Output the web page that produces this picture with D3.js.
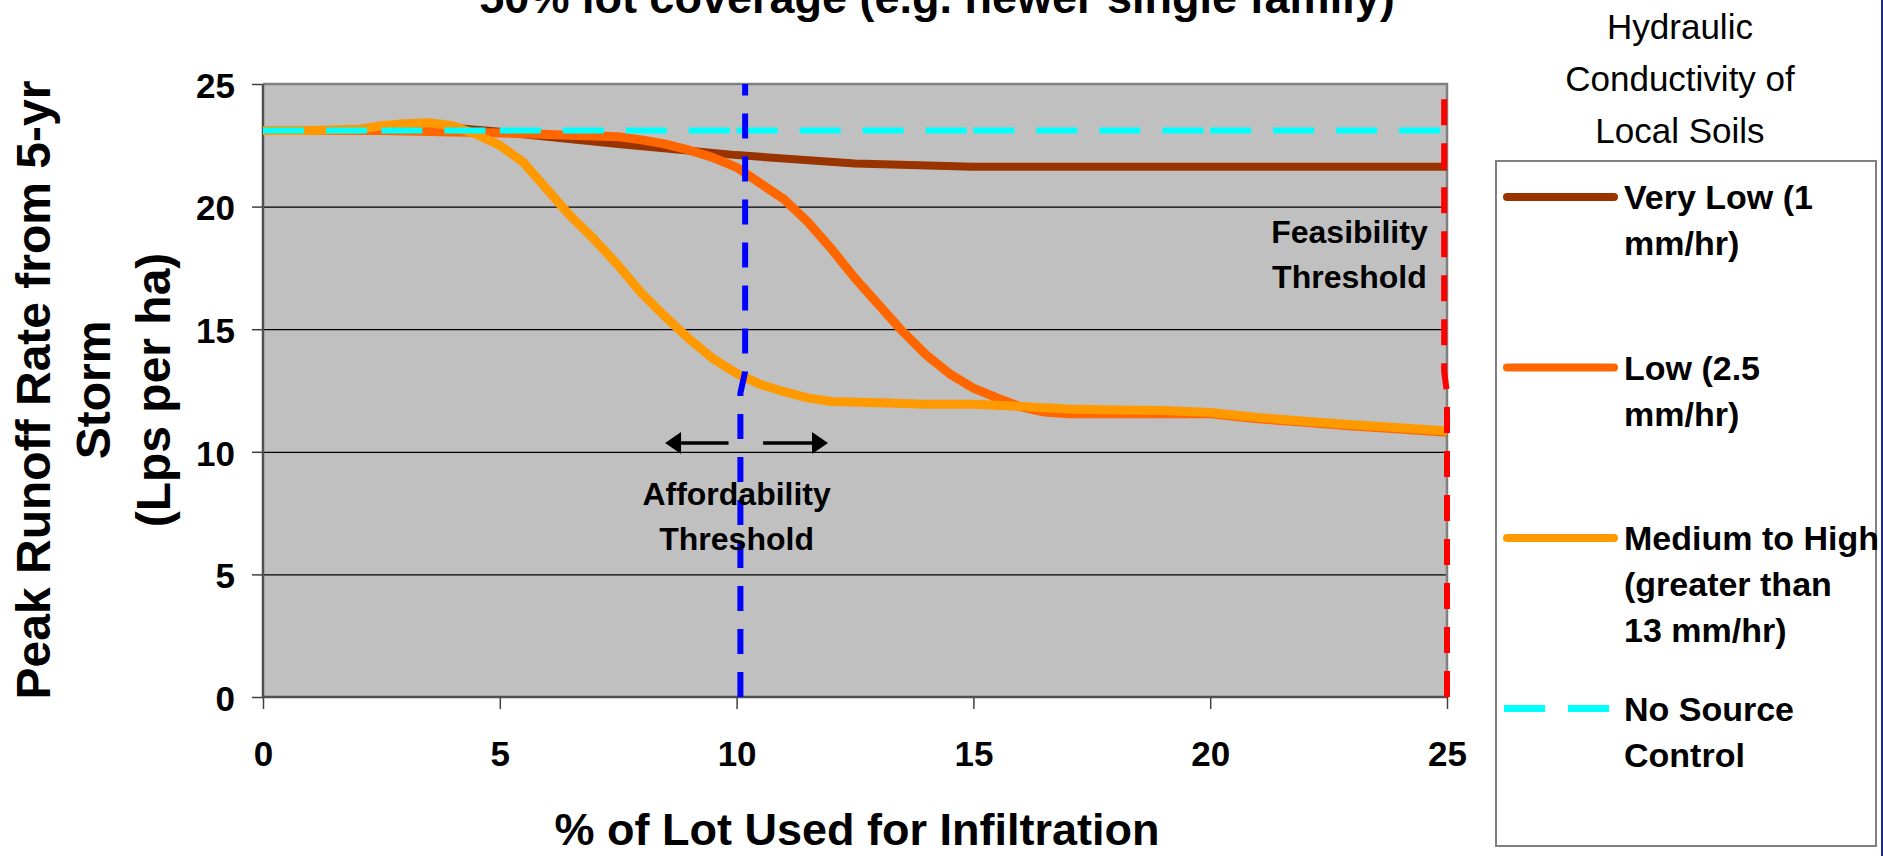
<!DOCTYPE html>
<html>
<head>
<meta charset="utf-8">
<script src="https://cdn.jsdelivr.net/npm/d3@7"></script>
<style>
  body { margin: 0; background: #fff; }
  svg { display: block; font-family: "Liberation Sans", Arial, sans-serif; }
</style>
</head>
<body>
<svg id="chart" width="1883" height="856"></svg>
<script>
// données
const xTicks = [0, 5, 10, 15, 20, 25];
const yTicks = [0, 5, 10, 15, 20, 25];

const veryLowX = [0, 2.5, 4, 5, 7.5, 10, 12.5, 15, 20, 25];
const veryLowY = [23.1, 23.12, 23.22, 23.05, 22.55, 22.1, 21.76, 21.63, 21.63, 21.63];

const lowX = [0, 2.5, 5, 7.5, 8, 8.5, 9, 9.5, 10, 10.5, 11, 11.5, 12, 12.5, 13, 13.5, 14, 14.5, 15, 15.5, 16, 16.5, 17, 18, 19, 20, 21, 22, 23, 24, 25];
const lowY = [23.1, 23.1, 23.0, 22.85, 22.72, 22.55, 22.3, 22.0, 21.6, 20.95, 20.3, 19.38, 18.28, 17.08, 16.0, 14.92, 13.96, 13.18, 12.6, 12.2, 11.83, 11.62, 11.55, 11.55, 11.55, 11.55, 11.35, 11.2, 11.05, 10.93, 10.8];

const medX = [0, 1, 2, 2.5, 3, 3.5, 4, 4.5, 5, 5.5, 6, 6.5, 7, 7.5, 8, 8.5, 9, 9.5, 10, 10.5, 11, 11.5, 12, 13, 14, 15, 16, 17, 18, 19, 20, 21, 22, 23, 24, 25];
const medY = [23.1, 23.1, 23.15, 23.3, 23.38, 23.42, 23.3, 22.95, 22.5, 21.8, 20.7, 19.6, 18.65, 17.6, 16.45, 15.5, 14.6, 13.8, 13.2, 12.75, 12.45, 12.2, 12.05, 12.0, 11.94, 11.94, 11.85, 11.75, 11.7, 11.68, 11.6, 11.4, 11.25, 11.1, 10.98, 10.85];

const noControlX = [0, 2.5, 5, 10, 15, 20, 25];
const noControlY = [23.1, 23.1, 23.1, 23.1, 23.1, 23.1, 23.1];

// seuils (lignes verticales)
const affordX = [10.18, 10.18, 10.08, 10.08];
const affordY = [25, 13.27, 12.39, 0];
const feasX = [24.94, 24.94, 25.0, 25.0];
const feasY = [25, 13.27, 12.39, 0];

// flèches autour du seuil d'abordabilité
const arrowY = 10.36;
const arrowLeft = [9.83, 8.49];
const arrowRight = [10.56, 11.93];

const seriesNames = ["Very Low", "Low", "Medium to High", "No Source Control"];
const legendLabels = [
    ["Very Low (1", "mm/hr)"],
    ["Low (2.5", "mm/hr)"],
    ["Medium to High", "(greater than", "13 mm/hr)"],
    ["No Source", "Control"]
];
const legendTitle = ["Hydraulic", "Conductivity of", "Local Soils"];

const svg = d3.select('#chart');
const font = '"Liberation Sans", Arial, sans-serif';

// échelles
const x = d3.scaleLinear().domain([0, 25]).range([263, 1447]);
const y = d3.scaleLinear().domain([0, 25]).range([697, 84]);

// fond de la zone de tracé
svg.append('rect')
    .attr('x', x(0)).attr('y', y(25))
    .attr('width', x(25) - x(0)).attr('height', y(0) - y(25))
    .attr('fill', '#c0c0c0');

// lignes de grille
svg.append('g')
    .attr('transform', `translate(${x(0)},0)`)
    .call(d3.axisLeft(y).tickValues([5, 10, 15, 20]).tickSize(-(x(25) - x(0))).tickFormat(''))
    .call(g => g.select('.domain').remove())
    .selectAll('line').attr('stroke', '#000').attr('stroke-width', 1.3);

// cadre haut / droite
svg.append('path')
    .attr('d', `M${x(0)},${y(25)}H${x(25)}V${y(0)}`)
    .attr('fill', 'none').attr('stroke', '#808080').attr('stroke-width', 2.5);

// axe Y
const yAxis = svg.append('g')
    .attr('transform', `translate(${x(0)},0)`)
    .call(d3.axisLeft(y).tickValues(yTicks).tickSize(11).tickPadding(17));
yAxis.select('.domain').remove();
yAxis.selectAll('line').attr('stroke', '#404040').attr('stroke-width', 1.5);
yAxis.selectAll('text')
    .attr('font-family', font).attr('font-size', 35).attr('font-weight', 'bold')
    .attr('fill', '#000').attr('dy', '0.38em');

// axe X
const xAxis = svg.append('g')
    .attr('transform', `translate(0,${y(0)})`)
    .call(d3.axisBottom(x).tickValues(xTicks).tickSize(12).tickPadding(32));
xAxis.select('.domain').remove();
xAxis.selectAll('line').attr('stroke', '#404040').attr('stroke-width', 1.5);
xAxis.selectAll('text')
    .attr('font-family', font).attr('font-size', 35).attr('font-weight', 'bold')
    .attr('fill', '#000');

// lignes d'axe gauche / bas
svg.append('path')
    .attr('d', `M${x(0)},${y(25)}V${y(0)}H${x(25)}`)
    .attr('fill', 'none').attr('stroke', '#505050').attr('stroke-width', 2.5);

// courbes
const line = d3.line().x(d => x(d[0])).y(d => y(d[1]));
const zip = (xs, ys) => xs.map((v, i) => [v, ys[i]]);

svg.append('path')
    .datum(zip(veryLowX, veryLowY))
    .attr('d', line)
    .attr('fill', 'none').attr('stroke', '#993300').attr('stroke-width', 8)
    .attr('stroke-linejoin', 'round');

svg.append('path')
    .datum(zip(lowX, lowY))
    .attr('d', line)
    .attr('fill', 'none').attr('stroke', '#ff6600').attr('stroke-width', 9)
    .attr('stroke-linejoin', 'round');

svg.append('path')
    .datum(zip(medX, medY))
    .attr('d', line)
    .attr('fill', 'none').attr('stroke', '#ff9900').attr('stroke-width', 9)
    .attr('stroke-linejoin', 'round');

// pas de contrôle à la source : tirets qui redémarrent à chaque point
const nc = zip(noControlX, noControlY);
svg.append('g').selectAll('path')
    .data(d3.pairs(nc))
    .enter().append('path')
    .attr('d', d => line(d))
    .attr('fill', 'none').attr('stroke', '#00ffff').attr('stroke-width', 6)
    .attr('stroke-dasharray', '41,22');

// seuils verticaux
svg.append('path')
    .datum(zip(affordX, affordY).reverse())
    .attr('d', line)
    .attr('fill', 'none').attr('stroke', '#0000ff').attr('stroke-width', 6)
    .attr('stroke-dasharray', '25,18');

svg.append('path')
    .datum(zip(feasX, feasY).reverse())
    .attr('d', line)
    .attr('fill', 'none').attr('stroke', '#ff0000').attr('stroke-width', 6)
    .attr('stroke-dasharray', '26,18');

// flèches
function arrow(from, to) {
    const x0 = x(from), x1 = x(to), yy = y(arrowY);
    const dir = Math.sign(x1 - x0);
    const headLen = 16, headW = 11;
    svg.append('line')
        .attr('x1', x0).attr('y1', yy)
        .attr('x2', x1 - dir * headLen).attr('y2', yy)
        .attr('stroke', '#000').attr('stroke-width', 3.5);
    svg.append('path')
        .attr('d', `M${x1},${yy}L${x1 - dir * headLen},${yy - headW}L${x1 - dir * headLen},${yy + headW}Z`)
        .attr('fill', '#000');
}
arrow(arrowLeft[0], arrowLeft[1]);
arrow(arrowRight[0], arrowRight[1]);

// annotations
const notes = [
    { text: ["Affordability", "Threshold"], cx: 10.0, top: 7.83 },
    { text: ["Feasibility", "Threshold"], cx: 22.94, top: 18.52 }
];
notes.forEach(n => {
    const t = svg.append('text')
        .attr('font-family', font).attr('font-size', 32).attr('font-weight', 'bold')
        .attr('text-anchor', 'middle').attr('fill', '#000');
    n.text.forEach((s, i) => {
        t.append('tspan').attr('x', x(n.cx)).attr('y', y(n.top) + i * 45).text(s);
    });
});

// titre (coupé en haut, comme dans l'original)
svg.append('text')
    .attr('x', 937).attr('y', 13)
    .attr('font-family', font).attr('font-size', 45).attr('font-weight', 'bold')
    .attr('text-anchor', 'middle').attr('fill', '#000')
    .text('50% lot coverage (e.g. newer single family)');

// titre de l'axe X
svg.append('text')
    .attr('x', 857).attr('y', 845)
    .attr('font-family', font).attr('font-size', 45).attr('font-weight', 'bold')
    .attr('text-anchor', 'middle').attr('fill', '#000')
    .text('% of Lot Used for Infiltration');

// titre de l'axe Y
const yTitle = ['Peak Runoff Rate from 5-yr', 'Storm', '(Lps per ha)'];
yTitle.forEach((s, i) => {
    svg.append('text')
        .attr('transform', `translate(${50 + i * 60},390) rotate(-90)`)
        .attr('font-family', font).attr('font-size', 48).attr('font-weight', 'bold')
        .attr('text-anchor', 'middle').attr('fill', '#000')
        .text(s);
});

// légende
legendTitle.forEach((s, i) => {
    svg.append('text')
        .attr('x', 1680).attr('y', 39 + i * 52)
        .attr('font-family', font).attr('font-size', 35)
        .attr('text-anchor', 'middle').attr('fill', '#000')
        .text(s);
});

svg.append('rect')
    .attr('x', 1496).attr('y', 161).attr('width', 380).attr('height', 685)
    .attr('fill', '#fff').attr('stroke', '#808080').attr('stroke-width', 2);

const legendStyles = [
    { color: '#993300', width: 8, dash: null },
    { color: '#ff6600', width: 8, dash: null },
    { color: '#ff9900', width: 8, dash: null },
    { color: '#00ffff', width: 7, dash: '41,23' }
];

const legend = svg.append('g')
    .selectAll('g')
    .data(seriesNames)
    .enter().append('g')
    .attr('transform', (d, i) => `translate(0,${197 + i * 170.5})`);

legend.append('line')
    .attr('x1', (d, i) => legendStyles[i].dash ? 1504 : 1507)
    .attr('x2', (d, i) => legendStyles[i].dash ? 1609 : 1614)
    .attr('y1', 0).attr('y2', 0)
    .attr('stroke', (d, i) => legendStyles[i].color)
    .attr('stroke-width', (d, i) => legendStyles[i].width)
    .attr('stroke-linecap', (d, i) => legendStyles[i].dash ? 'butt' : 'round')
    .attr('stroke-dasharray', (d, i) => legendStyles[i].dash);

legend.append('text')
    .attr('font-family', font).attr('font-size', 34).attr('font-weight', 'bold')
    .attr('fill', '#000')
    .each(function(d, i) {
        const t = d3.select(this);
        legendLabels[i].forEach((s, j) => {
            t.append('tspan').attr('x', 1624).attr('y', 12 + j * 46).text(s);
        });
    });

// bord bleu à droite de l'image
svg.append('line')
    .attr('x1', 1882).attr('x2', 1882).attr('y1', 0).attr('y2', 856)
    .attr('stroke', '#1c2c94').attr('stroke-width', 2);
</script>
</body>
</html>
